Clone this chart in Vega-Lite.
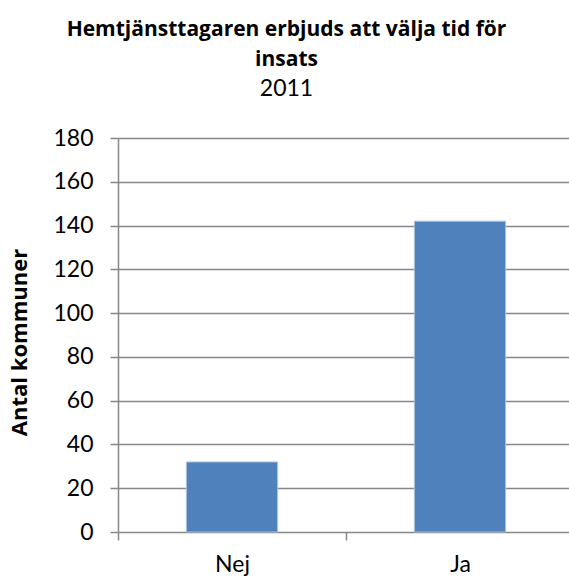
{
  "$schema": "https://vega.github.io/schema/vega-lite/v6.json",
  "width": 451,
  "height": 394,
  "autosize": {"type": "none"},
  "padding": {"left": 118, "top": 138, "right": 0, "bottom": 47},
  "background": "white",
  "title": {
    "text": ["Hemtjänsttagaren erbjuds att välja tid för", "insats"],
    "subtitle": "2011",
    "font": "Open Sans",
    "fontSize": 21,
    "fontWeight": "bold",
    "color": "black",
    "lineHeight": 30,
    "subtitleFont": "Lato",
    "subtitleFontSize": 23,
    "subtitleColor": "black",
    "subtitlePadding": 8,
    "anchor": "middle",
    "dx": -57,
    "offset": 26
  },
  "data": {
    "values": [
      {"svar": "Nej", "antal": 32},
      {"svar": "Ja", "antal": 142}
    ]
  },
  "mark": {"type": "bar", "color": "#4F81BD", "stroke": "#a9c1df", "strokeWidth": 1},
  "encoding": {
    "x": {
      "field": "svar",
      "type": "nominal",
      "sort": ["Nej", "Ja"],
      "scale": {"range": [0, 456], "paddingInner": 0.6, "paddingOuter": 0.3},
      "axis": {
        "title": null,
        "labelAngle": 0,
        "labelFont": "Lato",
        "labelFontSize": 23,
        "labelColor": "black",
        "labelPadding": 13,
        "labelOffset": 68.4,
        "domain": false,
        "grid": false,
        "ticks": true,
        "tickSize": 8,
        "tickColor": "#878787",
        "tickWidth": 1.5,
        "bandPosition": 0,
        "tickOffset": -68.4
      }
    },
    "y": {
      "field": "antal",
      "type": "quantitative",
      "scale": {"domain": [0, 180]},
      "axis": {
        "title": "Antal kommuner",
        "titleFont": "Open Sans",
        "titleFontSize": 22,
        "titleFontWeight": "bold",
        "titleColor": "black",
        "titleAngle": 270,
        "titleBaseline": "bottom",
        "titleX": -87,
        "titleY": 204,
        "values": [0, 20, 40, 60, 80, 100, 120, 140, 160, 180],
        "labelFont": "Lato",
        "labelFontSize": 23,
        "labelColor": "black",
        "labelPadding": 17,
        "domainColor": "#878787",
        "domainWidth": 1.5,
        "tickColor": "#878787",
        "tickWidth": 1.5,
        "tickSize": 8,
        "gridColor": "#878787",
        "gridWidth": 1.5
      }
    }
  },
  "config": {"view": {"stroke": null}}
}
